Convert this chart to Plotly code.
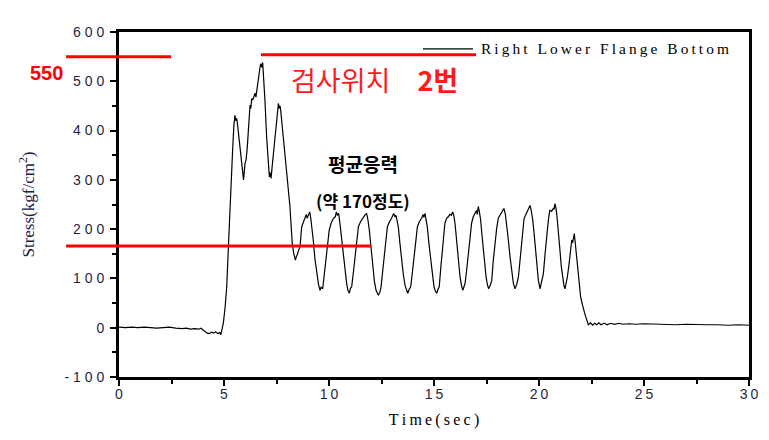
import plotly.graph_objects as go

# ---------------- data ----------------
time_sec = [
    0.0, 0.3, 0.6, 0.9, 1.2, 1.5, 1.8, 2.1, 2.4, 2.7, 3.0, 3.2, 3.4, 3.6, 3.8, 3.9, 4.0, 4.1, 4.2, 4.3,
    4.4, 4.5, 4.6, 4.7, 4.8, 4.85, 4.9, 4.97, 5.05, 5.13, 5.21, 5.29, 5.35, 5.41, 5.47, 5.52, 5.56, 5.6, 5.63, 5.7,
    5.76, 5.82, 5.89, 5.93, 6.0, 6.05, 6.11, 6.18, 6.24, 6.28, 6.32, 6.37, 6.42, 6.48, 6.52, 6.56, 6.6, 6.64, 6.68, 6.72,
    6.76, 6.8, 6.84, 6.9, 6.95, 7.03, 7.1, 7.16, 7.2, 7.24, 7.3, 7.35, 7.42, 7.48, 7.53, 7.59, 7.63, 7.67, 7.7, 7.75,
    7.79, 7.85, 7.9, 7.96, 8.03, 8.08, 8.14, 8.2, 8.25, 8.32, 8.36, 8.4, 8.45, 8.49, 8.54, 8.62, 8.7, 8.78, 8.86, 8.92,
    8.96, 9.02, 9.08, 9.13, 9.2, 9.25, 9.33, 9.41, 9.5, 9.57, 9.62, 9.7, 9.78, 9.86, 9.94, 10.01, 10.1, 10.21, 10.3, 10.35,
    10.4, 10.46, 10.52, 10.6, 10.68, 10.76, 10.84, 10.9, 10.97, 11.02, 11.08, 11.16, 11.24, 11.32, 11.4, 11.5, 11.6, 11.7, 11.79, 11.85,
    11.92, 12.0, 12.08, 12.16, 12.24, 12.3, 12.35, 12.42, 12.48, 12.55, 12.62, 12.7, 12.78, 12.88, 12.98, 13.08, 13.14, 13.19, 13.25, 13.3,
    13.38, 13.46, 13.54, 13.62, 13.68, 13.75, 13.82, 13.89, 13.97, 14.05, 14.13, 14.21, 14.3, 14.41, 14.48, 14.52, 14.57, 14.62, 14.68, 14.76,
    14.84, 14.92, 15.0, 15.06, 15.13, 15.19, 15.25, 15.33, 15.4, 15.46, 15.52, 15.6, 15.68, 15.75, 15.82, 15.89, 15.95, 16.0, 16.06, 16.11,
    16.18, 16.24, 16.3, 16.37, 16.42, 16.48, 16.55, 16.63, 16.71, 16.79, 16.87, 16.95, 17.02, 17.06, 17.11, 17.16, 17.22, 17.28, 17.35, 17.42,
    17.48, 17.54, 17.6, 17.67, 17.75, 17.82, 17.9, 17.98, 18.06, 18.14, 18.22, 18.28, 18.33, 18.4, 18.46, 18.54, 18.62, 18.7, 18.78, 18.86,
    18.94, 19.02, 19.1, 19.17, 19.23, 19.29, 19.36, 19.44, 19.5, 19.57, 19.63, 19.7, 19.77, 19.84, 19.9, 19.97, 20.05, 20.13, 20.21, 20.29,
    20.37, 20.45, 20.52, 20.6, 20.68, 20.72, 20.76, 20.82, 20.87, 20.94, 21.0, 21.06, 21.13, 21.19, 21.24, 21.3, 21.35, 21.42, 21.48, 21.56,
    21.6, 21.65, 21.68, 21.72, 21.76, 21.82, 21.87, 21.93, 21.98, 22.05, 22.11, 22.17, 22.22, 22.27, 22.3, 22.35, 22.45, 22.55, 22.65, 22.75,
    22.85, 22.95, 23.1, 23.25, 23.4, 23.6, 23.8, 24.0, 24.3, 24.6, 25.0, 25.5, 26.0, 26.5, 27.0, 27.5, 28.0, 28.5, 29.0, 29.5,
    30.0,
]
stress = [
    1, 0, 1, 0, 1, 0, -1, 0, 1, -1, -2, -1, -3, -2, -3, -1, -4, -8, -11, -12,
    -9, -11, -8, -12, -10, -14, -5, 10, 40, 83, 164, 253, 290, 360, 410, 431, 420, 425, 418, 390,
    360, 330, 306, 300, 333, 340, 367, 410, 452, 445, 465, 462, 470, 476, 468, 482, 485, 500, 516, 530,
    536, 528, 538, 500, 462, 387, 340, 306, 315, 303, 330, 354, 390, 415, 440, 455, 445, 450, 441, 420,
    394, 370, 360, 330, 306, 275, 246, 205, 171, 151, 140, 137, 145, 148, 156, 164, 205, 215, 222, 230,
    222, 228, 235, 223, 200, 178, 140, 110, 88, 76, 82, 79, 110, 144, 175, 198, 212, 222, 225, 235,
    228, 232, 212, 180, 144, 112, 90, 76, 70, 80, 83, 112, 144, 175, 205, 215, 222, 228, 232, 220,
    198, 160, 123, 95, 76, 72, 66, 72, 83, 112, 144, 178, 205, 215, 222, 232, 225, 228, 215, 205,
    170, 137, 108, 86, 76, 70, 78, 83, 112, 144, 178, 205, 215, 222, 230, 224, 232, 222, 205, 170,
    137, 108, 83, 75, 70, 78, 83, 125, 160, 190, 212, 222, 225, 230, 228, 235, 226, 212, 185, 156,
    128, 103, 88, 76, 82, 90, 115, 144, 180, 212, 225, 232, 238, 230, 246, 235, 219, 190, 156, 128,
    103, 88, 79, 85, 96, 135, 171, 200, 222, 228, 235, 238, 242, 230, 212, 178, 144, 112, 90, 79,
    88, 103, 140, 171, 200, 222, 228, 235, 240, 248, 238, 219, 190, 156, 125, 96, 79, 92, 110, 150,
    191, 220, 239, 236, 242, 240, 252, 240, 219, 190, 156, 125, 96, 85, 79, 90, 103, 125, 144, 178,
    172, 185, 191, 175, 156, 135, 110, 85, 63, 50, 36, 30, 23, 15, 9, 6, 10, 5, 9, 6,
    10, 6, 9, 6, 9, 7, 9, 7, 8, 7, 8, 7, 7, 6, 7, 6, 6, 6, 5, 6,
    5,
]

x_tick_vals = [0, 5, 10, 15, 20, 25, 30]
x_tick_text = ["0", "5", "1\u20090", "1\u20095", "2\u20090", "2\u20095", "3\u20090"]
y_tick_vals = [-100, 0, 100, 200, 300, 400, 500, 600]
y_tick_text = ["- 1 0 0", "0", "1 0 0", "2 0 0", "3 0 0", "4 0 0", "5 0 0", "6 0 0"]

series_name = "Right Lower Flange Bottom"
x_title = "Time(sec)"
y_title = "Stress(kgf/cm<sup>2</sup>)"

# red reference lines: (x start, x end, stress level) in data units
ref_lines = [(-2.52, 2.48, 550), (6.76, 17.0, 554), (-2.52, 12.0, 166)]

X_RANGE = [0, 30]
Y_RANGE = [-100, 600]


def spaced(s, sep="\u2009"):
    return sep.join(list(s))


def xpaper(x):
    return (x - X_RANGE[0]) / (X_RANGE[1] - X_RANGE[0])


fig = go.Figure()
fig.add_trace(go.Scatter(
    x=time_sec, y=stress, mode="lines",
    line=dict(color="black", width=1.2),
    name=series_name, showlegend=False,
))

for x0, x1, lvl in ref_lines:
    fig.add_shape(type="line", xref="paper", yref="y",
                  x0=xpaper(x0), x1=xpaper(x1), y0=lvl, y1=lvl,
                  line=dict(color="#ff0000", width=3), layer="above")

# manual legend
fig.add_shape(type="line", xref="paper", yref="paper",
              x0=0.4825, x1=0.5619, y0=0.951, y1=0.951,
              line=dict(color="black", width=1.3))
fig.add_annotation(xref="paper", yref="paper", x=0.572, y=0.951,
                   xanchor="left", yanchor="middle", showarrow=False,
                   text=spaced(series_name),
                   font=dict(family="Liberation Serif, Times New Roman, serif", size=15.4, color="black"))

fig.add_annotation(xref="paper", yref="y", x=-0.1143, y=517,
                   xanchor="center", yanchor="middle", showarrow=False,
                   text="<b>550</b>",
                   font=dict(family="Liberation Sans Narrow, Arial Narrow, sans-serif", size=20, color="#ff0000"))
fig.add_annotation(xref="x", yref="y", x=8.1, y=503,
                   xanchor="left", yanchor="middle", showarrow=False,
                   text="검사위치\u2002\u2002<b>2번</b>",
                   font=dict(family="Noto Sans CJK KR", size=27, color="#ff1a1a"))
fig.add_annotation(xref="x", yref="y", x=11.6, y=334,
                   xanchor="center", yanchor="middle", showarrow=False,
                   text="<b>평균응력</b>",
                   font=dict(family="Noto Sans CJK KR", size=19, color="black"))
fig.add_annotation(xref="x", yref="y", x=11.6, y=259,
                   xanchor="center", yanchor="middle", showarrow=False,
                   text="<b>(약 170정도)</b>",
                   font=dict(family="Noto Sans CJK KR", size=17, color="black"))

axis_common = dict(
    showgrid=False, zeroline=False, showline=True, linecolor="black", linewidth=3,
    mirror=True, ticks="outside", ticklen=6, tickwidth=2, tickcolor="black",
    tickfont=dict(family="Liberation Sans, Arial, sans-serif", size=14, color="#1f1f3f"),
)

fig.update_xaxes(
    range=X_RANGE, tickvals=x_tick_vals, ticktext=x_tick_text,
    ticklabelstandoff=-4,
    minor=dict(dtick=2.5, tick0=0, ticks="outside", ticklen=4, tickwidth=2, tickcolor="black"),
    title=dict(text=spaced(x_title, "\u2009"),
               font=dict(family="Liberation Serif, Times New Roman, serif", size=16, color="black"),
               standoff=14),
    **axis_common,
)
fig.update_yaxes(
    range=Y_RANGE, tickvals=y_tick_vals, ticktext=y_tick_text,
    ticklabelstandoff=3,
    minor=dict(dtick=50, tick0=0, ticks="outside", ticklen=4, tickwidth=2, tickcolor="black"),
    title=dict(text=y_title,
               font=dict(family="Liberation Serif, Times New Roman, serif", size=17, color="#222244"),
               standoff=26),
    **axis_common,
)

fig.update_layout(
    width=769, height=440,
    margin=dict(l=119, r=20, t=32, b=63),
    paper_bgcolor="white", plot_bgcolor="white",
    showlegend=False,
)

fig.write_html("out.html")
